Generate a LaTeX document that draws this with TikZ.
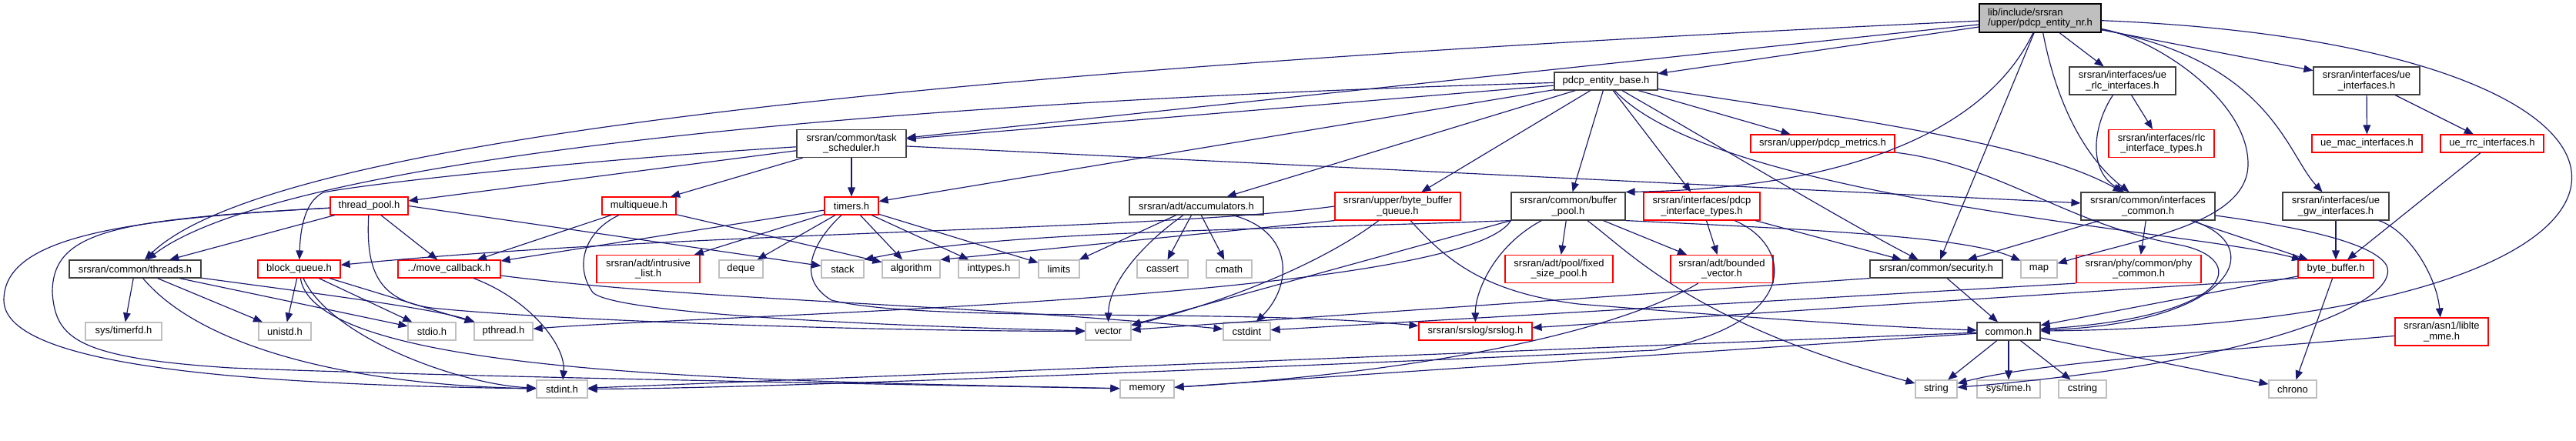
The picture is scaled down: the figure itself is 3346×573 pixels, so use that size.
\documentclass[tikz,border=0pt]{standalone}
\usepackage{fontspec}
\setmainfont{Liberation Sans}
\usetikzlibrary{arrows.meta}
\definecolor{edgeblue}{HTML}{191970}
\definecolor{hdrgray}{HTML}{404040}
\definecolor{sysgray}{HTML}{BFBFBF}
\definecolor{truncred}{HTML}{FF0000}
\begin{document}
\begin{tikzpicture}[
  x=0.3mm, y=-0.3mm, font=\fontsize{11.1}{11.5}\selectfont,
  box/.style={draw=#1, line width=0.35mm, fill=white, inner sep=0pt, minimum height=6.9mm, align=center},
  hdr/.style={box=hdrgray},
  trunc/.style={box=truncred},
  sys/.style={box=sysgray},
  mainbox/.style={box=black, fill=sysgray, align=left, minimum height=11.1mm},
  tall/.style={minimum height=10.8mm},
  wd/.style={minimum width=#1*0.3mm},
  arr/.style={-{Triangle[length=3.6mm, width=2.9mm]}, line width=0.35mm, edgeblue}
]
\useasboundingbox (0,0) rectangle (3346,573);
\fill[white] (0,0) rectangle (3346,573);

%% Top file and first level
\node[mainbox, wd=158] (nr) at (2650, 23.5) {lib/include/srsran\\/upper/pdcp\_entity\_nr.h};
\node[hdr, wd=134] (base) at (2086, 105.5) {pdcp\_entity\_base.h};
\node[hdr, tall, wd=138] (uerlc) at (2757, 105) {srsran/interfaces/ue\\\_rlc\_interfaces.h};
\node[hdr, tall, wd=138] (ueif) at (3074, 105) {srsran/interfaces/ue\\\_interfaces.h};

%% Second row
\node[hdr, tall, wd=142] (task) at (1106, 186.5) {srsran/common/task\\\_scheduler.h};
\node[trunc, wd=187] (metrics) at (2367.5, 186.5) {srsran/upper/pdcp\_metrics.h};
\node[trunc, tall, wd=137] (rlctypes) at (2807.5, 186.5) {srsran/interfaces/rlc\\\_interface\_types.h};
\node[trunc, wd=143] (uemac) at (3074.5, 186.5) {ue\_mac\_interfaces.h};
\node[trunc, wd=134] (uerrc) at (3237, 186.5) {ue\_rrc\_interfaces.h};

%% Third row
\node[trunc, wd=101] (threadpool) at (479.5, 267.5) {thread\_pool.h};
\node[trunc, wd=96] (multiqueue) at (830, 267.5) {multiqueue.h};
\node[trunc, wd=70] (timers) at (1106, 267.5) {timers.h};
\node[hdr, wd=174] (accum) at (1554, 267.5) {srsran/adt/accumulators.h};
\node[trunc, tall, wd=163] (bbq) at (1815.5, 268) {srsran/upper/byte\_buffer\\\_queue.h};
\node[hdr, tall, wd=148] (bufpool) at (2037, 268) {srsran/common/buffer\\\_pool.h};
\node[trunc, tall, wd=151] (pdcptypes) at (2210.5, 268) {srsran/interfaces/pdcp\\\_interface\_types.h};
\node[hdr, tall, wd=174] (ifcommon) at (2790, 268) {srsran/common/interfaces\\\_common.h};
\node[hdr, tall, wd=138] (uegw) at (3034, 268) {srsran/interfaces/ue\\\_gw\_interfaces.h};

%% Fourth row
\node[hdr, wd=171] (threads) at (175.5, 349.5) {srsran/common/threads.h};
\node[trunc, wd=107] (blockq) at (388.5, 349.5) {block\_queue.h};
\node[trunc, wd=133] (movecb) at (583.5, 349.5) {../move\_callback.h};
\node[trunc, tall, wd=134] (intrusive) at (842, 349.5) {srsran/adt/intrusive\\\_list.h};
\node[sys, wd=57] (deque) at (962.5, 349.5) {deque};
\node[sys, wd=55] (stack) at (1094.5, 349.5) {stack};
\node[sys, wd=75] (algorithm) at (1183.5, 349.5) {algorithm};
\node[sys, wd=79] (inttypes) at (1284.5, 349.5) {inttypes.h};
\node[sys, wd=53] (limits) at (1375.5, 349.5) {limits};
\node[sys, wd=66] (cassert) at (1510, 349.5) {cassert};
\node[sys, wd=59] (cmath) at (1596.5, 349.5) {cmath};
\node[trunc, tall, wd=140] (fixedpool) at (2025, 349.5) {srsran/adt/pool/fixed\\\_size\_pool.h};
\node[trunc, tall, wd=133] (bounded) at (2236.5, 349.5) {srsran/adt/bounded\\\_vector.h};
\node[hdr, wd=172] (security) at (2515, 349.5) {srsran/common/security.h};
\node[sys, wd=47] (map) at (2648.5, 349.5) {map};
\node[trunc, tall, wd=162] (phycommon) at (2778, 349.5) {srsran/phy/common/phy\\\_common.h};
\node[trunc, wd=98] (bytebuf) at (3034, 349.5) {byte\_buffer.h};

%% Fifth row
\node[sys, wd=99] (timerfd) at (160.5, 430.5) {sys/timerfd.h};
\node[sys, wd=68] (unistd) at (370, 430.5) {unistd.h};
\node[sys, wd=62] (stdio) at (561, 430.5) {stdio.h};
\node[sys, wd=76] (pthread) at (654, 430.5) {pthread.h};
\node[sys, wd=59] (vector) at (1439.5, 430.5) {vector};
\node[sys, wd=61] (cstdint) at (1619.5, 430.5) {cstdint};
\node[trunc, wd=147] (srslog) at (1916.5, 430.5) {srsran/srslog/srslog.h};
\node[hdr, wd=82] (common) at (2609, 430.5) {common.h};
\node[trunc, tall, wd=121] (liblte) at (3171.5, 431) {srsran/asn1/liblte\\\_mme.h};

%% Bottom row
\node[sys, wd=66] (stdint) at (730, 505.5) {stdint.h};
\node[sys, wd=70] (memory) at (1490, 505.5) {memory};
\node[sys, wd=54] (string) at (2515, 505.5) {string};
\node[sys, wd=82] (systime) at (2609, 505.5) {sys/time.h};
\node[sys, wd=62] (cstring) at (2705, 505.5) {cstring};
\node[sys, wd=62] (chrono) at (2978, 505.5) {chrono};

%% pdcp_entity_nr.h
\draw[arr] (nr) -- (base);
\draw[arr] (nr) -- (task);
\draw[arr] (nr) .. controls (1000,100) and (330,200) .. (threads);
\draw[arr] (nr) .. controls (2580,170) and (2400,245) .. (bufpool.north east);
\draw[arr] (nr) -- (security);
\draw[arr] (nr) .. controls (2680,180) and (2740,230) .. (ifcommon);
\draw[arr] (nr) -- (uerlc);
\draw[arr] (nr) .. controls (2800,50) and (2920,130) .. (2920,213) .. controls (2920,290) and (2780,310) .. (map);
\draw[arr] (nr) -- (ueif);
\draw[arr] (nr) .. controls (2950,80) and (2970,200) .. (uegw);
\draw[arr] (nr) .. controls (3560,60) and (3550,420) .. (common);

%% pdcp_entity_base.h
\draw[arr] (base) -- (task);
\draw[arr] (base) .. controls (900,140) and (330,230) .. (threads);
\draw[arr] (base) -- (timers);
\draw[arr] (base) -- (accum);
\draw[arr] (base) -- (bbq);
\draw[arr] (base) -- (bufpool);
\draw[arr] (base) -- (pdcptypes);
\draw[arr] (base) -- (metrics);
\draw[arr] (base) .. controls (2250,200) and (2400,290) .. (security);
\draw[arr] (base) .. controls (2450,160) and (2650,190) .. (ifcommon);
\draw[arr] (base) .. controls (2230,260) and (2850,300) .. (bytebuf);

%% task_scheduler.h
\draw[arr] (task) -- (timers);
\draw[arr] (task) -- (multiqueue);
\draw[arr] (task) -- (threadpool);
\draw[arr] (task) .. controls (800,205) and (500,235) .. (420,250) .. controls (395,262) and (390,300) .. (blockq);
\draw[arr] (task) -- (ifcommon);

%% thread_pool.h
\draw[arr] (threadpool) -- (threads);
\draw[arr] (threadpool) -- (movecb);
\draw[arr] (threadpool.east) -- (stack);
\draw[arr] (threadpool) .. controls (475,350) and (490,390) .. (560,400) .. controls (700,415) and (1100,430) .. (vector);
\draw[arr] (threadpool) .. controls (150,285) and (5,310) .. (5,390) .. controls (5,480) and (350,500) .. (stdint);
\draw[arr] (threadpool) .. controls (150,285) and (68,300) .. (68,380) .. controls (72,440) and (100,465) .. (300,478) .. controls (600,490) and (1200,500) .. (memory);

%% block_queue.h and threads.h
\draw[arr] (blockq) -- (unistd);
\draw[arr] (blockq) -- (stdio);
\draw[arr] (blockq) -- (pthread);
\draw[arr] (blockq) .. controls (430,440) and (600,500) .. (stdint);
\draw[arr] (blockq) .. controls (410,490) and (1000,495) .. (memory);
\draw[arr] (threads) -- (timerfd);
\draw[arr] (threads) -- (unistd);
\draw[arr] (threads) -- (stdio);
\draw[arr] (threads) .. controls (400,380) and (560,400) .. (pthread);
\draw[arr] (threads) .. controls (260,450) and (450,500) .. (stdint);

%% move_callback.h and multiqueue.h
\draw[arr] (movecb) .. controls (690,390) and (735,450) .. (stdint);
\draw[arr] (movecb) .. controls (900,390) and (1250,395) .. (cstdint);
\draw[arr] (multiqueue) -- (movecb);
\draw[arr] (multiqueue) -- (algorithm);
\draw[arr] (multiqueue) .. controls (760,300) and (745,345) .. (770,380) .. controls (800,410) and (1200,425) .. (vector);

%% timers.h
\draw[arr] (timers) -- (movecb);
\draw[arr] (timers) -- (intrusive);
\draw[arr] (timers) -- (deque);
\draw[arr] (timers) -- (algorithm);
\draw[arr] (timers) -- (inttypes);
\draw[arr] (timers) -- (limits);
\draw[arr] (timers) .. controls (1060,310) and (1030,360) .. (1080,390) .. controls (1200,420) and (1600,400) .. (srslog);

%% accumulators.h
\draw[arr] (accum) -- (limits);
\draw[arr] (accum) -- (cassert);
\draw[arr] (accum) -- (cmath);
\draw[arr] (accum) .. controls (1480,320) and (1440,370) .. (vector);
\draw[arr] (accum) .. controls (1680,300) and (1680,370) .. (cstdint);

%% byte_buffer_queue.h
\draw[arr] (bbq.west) .. controls (1500,300) and (900,300) .. (blockq);
\draw[arr] (bbq.south west) -- (algorithm.north east);
\draw[arr] (bbq) .. controls (1720,340) and (1600,390) .. (vector);
\draw[arr] (bbq) .. controls (1880,340) and (1930,380) .. (2050,395) .. controls (2300,415) and (2450,425) .. (common);

%% buffer_pool.h
\draw[arr] (bufpool) -- (fixedpool);
\draw[arr] (bufpool) .. controls (1940,320) and (1916,380) .. (srslog);
\draw[arr] (bufpool) -- (bounded);
\draw[arr] (bufpool) .. controls (2120,330) and (2200,420) .. (string);
\draw[arr] (bufpool.south west) .. controls (1600,300) and (1300,300) .. (stack.north east);
\draw[arr] (bufpool.south west) .. controls (1900,390) and (900,410) .. (pthread);
\draw[arr] (bufpool.south west) -- (vector);
\draw[arr] (bufpool.south east) .. controls (2400,300) and (2560,310) .. (map);

%% pdcp_interface_types.h, bounded_vector.h, pdcp_metrics.h
\draw[arr] (pdcptypes) -- (bounded);
\draw[arr] (pdcptypes) -- (security);
\draw[arr] (pdcptypes) .. controls (2330,320) and (2340,420) .. (2150,455) .. controls (1700,475) and (1000,505) .. (stdint);
\draw[arr] (bounded) .. controls (2120,420) and (1900,480) .. (memory);
\draw[arr] (metrics) .. controls (2600,215) and (2680,290) .. (2830,318) .. controls (2920,335) and (2910,410) .. (common);

%% security.h and interfaces_common.h
\draw[arr] (security) -- (common);
\draw[arr] (security.south west) -- (vector);
\draw[arr] (ifcommon) -- (security);
\draw[arr] (ifcommon) -- (phycommon);
\draw[arr] (ifcommon) -- (bytebuf);
\draw[arr] (ifcommon) .. controls (2950,320) and (2900,420) .. (common);
\draw[arr] (ifcommon) .. controls (2950,290) and (3080,310) .. (3100,345) .. controls (3120,390) and (2950,470) .. (string);
\draw[arr] (phycommon.south west) -- (cstdint);

%% byte_buffer.h
\draw[arr] (bytebuf) -- (common);
\draw[arr] (bytebuf) -- (chrono);
\draw[arr] (bytebuf.south west) -- (srslog);

%% ue interfaces
\draw[arr] (uerlc) -- (rlctypes);
\draw[arr] (uerlc) .. controls (2720,160) and (2710,220) .. (ifcommon);
\draw[arr] (ueif) -- (uemac);
\draw[arr] (ueif) -- (uerrc);
\draw[arr] (uegw) -- (bytebuf);
\draw[arr] (uegw) .. controls (3130,300) and (3165,360) .. (liblte);
\draw[arr] (uerrc) -- (bytebuf);
\draw[arr] (liblte) .. controls (2900,455) and (2650,470) .. (string);

%% common.h
\draw[arr] (common) -- (string);
\draw[arr] (common) -- (systime);
\draw[arr] (common) -- (cstring);
\draw[arr] (common) -- (chrono);
\draw[arr] (common) -- (stdint);
\draw[arr] (common) -- (memory);
\end{tikzpicture}
\end{document}
